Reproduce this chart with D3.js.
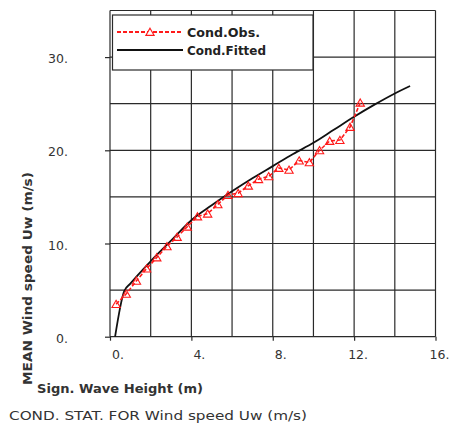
<!DOCTYPE html>
<html>
<head>
<meta charset="utf-8">
<script src="https://cdn.jsdelivr.net/npm/d3@7"></script>
<style>
  body { margin: 0; background: #fff; }
  svg { display: block; font-family: "DejaVu Sans", sans-serif; }
</style>
</head>
<body>
<div id="chart"></div>
<script>
// observed conditional mean (Cond.Obs.)
const obsHs = [0.3, 0.8, 1.3, 1.8, 2.3, 2.8, 3.3, 3.8, 4.3, 4.8, 5.3, 5.8, 6.3,
  6.8, 7.3, 7.8, 8.3, 8.8, 9.3, 9.8, 10.3, 10.8, 11.3, 11.8, 12.3];
const obsUw = [3.5, 4.6, 6.0, 7.3, 8.5, 9.7, 10.7, 11.8, 12.9, 13.2, 14.2, 15.2, 15.4,
  16.2, 16.9, 17.2, 18.1, 17.9, 18.9, 18.7, 20.0, 21.0, 21.1, 22.5, 25.1];

// fitted curve (Cond.Fitted)
const fitHs = [0.25, 0.7, 1, 2, 3, 4, 5, 6, 7, 8, 9, 10, 11, 12, 13, 14, 14.75];
const fitUw = [0, 4.9, 5.7, 8.1, 10.3, 12.5, 14.1, 15.6, 17.0, 18.3, 19.6, 20.8, 22.2,
  23.6, 24.9, 26.1, 26.9];

const xTicks = [0, 4, 8, 12, 16];
const yTicks = [0, 10, 20, 30];
const xGrid = d3.range(0, 17, 2);
const yGrid = d3.range(0, 36, 5);

const width = 450;
const height = 425;
const plot = { left: 110, right: 435.5, top: 10.5, bottom: 336.7 };

const svg = d3.select("#chart")
  .append("svg")
  .attr("width", width)
  .attr("height", height);

const xScale = d3.scaleLinear().domain([0, 16]).range([plot.left, plot.right]);
const yScale = d3.scaleLinear().domain([0, 35]).range([plot.bottom, plot.top]);

const gridColor = "#2a2a2a";

// grid
const grid = svg.append("g").attr("stroke", gridColor).attr("stroke-width", 1.2);
grid.selectAll(".vx").data(xGrid).join("line")
  .attr("x1", d => xScale(d)).attr("x2", d => xScale(d))
  .attr("y1", plot.top).attr("y2", plot.bottom);
grid.selectAll(".hy").data(yGrid).join("line")
  .attr("x1", plot.left).attr("x2", plot.right)
  .attr("y1", d => yScale(d)).attr("y2", d => yScale(d));

// axes (ticks only, labels drawn by hand for the trailing dot style)
const xAxis = svg.append("g")
  .attr("transform", `translate(0, ${plot.bottom})`)
  .call(d3.axisBottom(xScale).tickValues(xTicks).tickSize(4).tickFormat(""));
const yAxis = svg.append("g")
  .attr("transform", `translate(${plot.left}, 0)`)
  .call(d3.axisLeft(yScale).tickValues(yTicks).tickSize(5).tickFormat(""));
[xAxis, yAxis].forEach(a => {
  a.select(".domain").remove();
  a.selectAll("line").attr("stroke", gridColor).attr("stroke-width", 1.2);
});

svg.append("g")
  .selectAll("text").data(xTicks).join("text")
  .attr("x", d => xScale(d) + (d >= 10 ? -6 : 2))
  .attr("y", 359)
  .attr("font-size", 12.5)
  .attr("fill", "#333")
  .text(d => d + ".");

svg.append("g")
  .selectAll("text").data(yTicks).join("text")
  .attr("x", 68)
  .attr("y", d => yScale(d) + 6)
  .attr("text-anchor", "end")
  .attr("font-size", 12.5)
  .attr("fill", "#333")
  .text(d => d + ".");

// axis titles
svg.append("text")
  .attr("x", 37).attr("y", 393)
  .attr("font-size", 12.5).attr("font-weight", "bold").attr("fill", "#333")
  .attr("textLength", 166).attr("lengthAdjust", "spacingAndGlyphs")
  .text("Sign. Wave Height (m)");

svg.append("text")
  .attr("transform", "translate(32, 385) rotate(-90)")
  .attr("font-size", 12.5).attr("font-weight", "bold").attr("fill", "#333")
  .attr("textLength", 213).attr("lengthAdjust", "spacingAndGlyphs")
  .text("MEAN Wind speed Uw (m/s)");

svg.append("text")
  .attr("x", 9).attr("y", 420)
  .attr("font-size", 12.5).attr("fill", "#333")
  .attr("textLength", 298).attr("lengthAdjust", "spacingAndGlyphs")
  .text("COND. STAT. FOR Wind speed Uw (m/s)");

// fitted curve
const fitted = fitHs.map((h, i) => ({ h, u: fitUw[i] }));
svg.append("path")
  .datum(fitted)
  .attr("fill", "none")
  .attr("stroke", "#111")
  .attr("stroke-width", 1.8)
  .attr("d", d3.line().x(d => xScale(d.h)).y(d => yScale(d.u)).curve(d3.curveMonotoneX));

// observed
const observed = obsHs.map((h, i) => ({ h, u: obsUw[i] }));
svg.append("path")
  .datum(observed)
  .attr("fill", "none")
  .attr("stroke", "#ff1a1a")
  .attr("stroke-width", 1.6)
  .attr("stroke-dasharray", "4,2")
  .attr("d", d3.line().x(d => xScale(d.h)).y(d => yScale(d.u)));

const tri = d3.symbol().type(d3.symbolTriangle).size(30);
svg.append("g")
  .selectAll("path").data(observed).join("path")
  .attr("transform", d => `translate(${xScale(d.h)}, ${yScale(d.u) + 1})`)
  .attr("d", tri)
  .attr("fill", "none")
  .attr("stroke", "#ff1a1a")
  .attr("stroke-width", 1.1);

// legend
const legend = svg.append("g");
legend.append("rect")
  .attr("x", 112.5).attr("y", 15).attr("width", 200.5).attr("height", 55)
  .attr("fill", "#fff").attr("stroke", gridColor).attr("stroke-width", 1.2);
legend.append("line")
  .attr("x1", 117).attr("x2", 183).attr("y1", 32).attr("y2", 32)
  .attr("stroke", "#ff1a1a").attr("stroke-width", 1.8).attr("stroke-dasharray", "4,2");
legend.append("path")
  .attr("transform", "translate(150, 33)")
  .attr("d", tri)
  .attr("fill", "#fff").attr("stroke", "#ff1a1a").attr("stroke-width", 1.1);
legend.append("line")
  .attr("x1", 117).attr("x2", 183).attr("y1", 50).attr("y2", 50)
  .attr("stroke", "#111").attr("stroke-width", 1.8);
legend.append("text")
  .attr("x", 187).attr("y", 36.5)
  .attr("font-size", 12.5).attr("font-weight", "bold").attr("fill", "#222")
  .attr("textLength", 73).attr("lengthAdjust", "spacingAndGlyphs")
  .text("Cond.Obs.");
legend.append("text")
  .attr("x", 187).attr("y", 54.5)
  .attr("font-size", 12.5).attr("font-weight", "bold").attr("fill", "#222")
  .attr("textLength", 79).attr("lengthAdjust", "spacingAndGlyphs")
  .text("Cond.Fitted");
</script>
</body>
</html>
